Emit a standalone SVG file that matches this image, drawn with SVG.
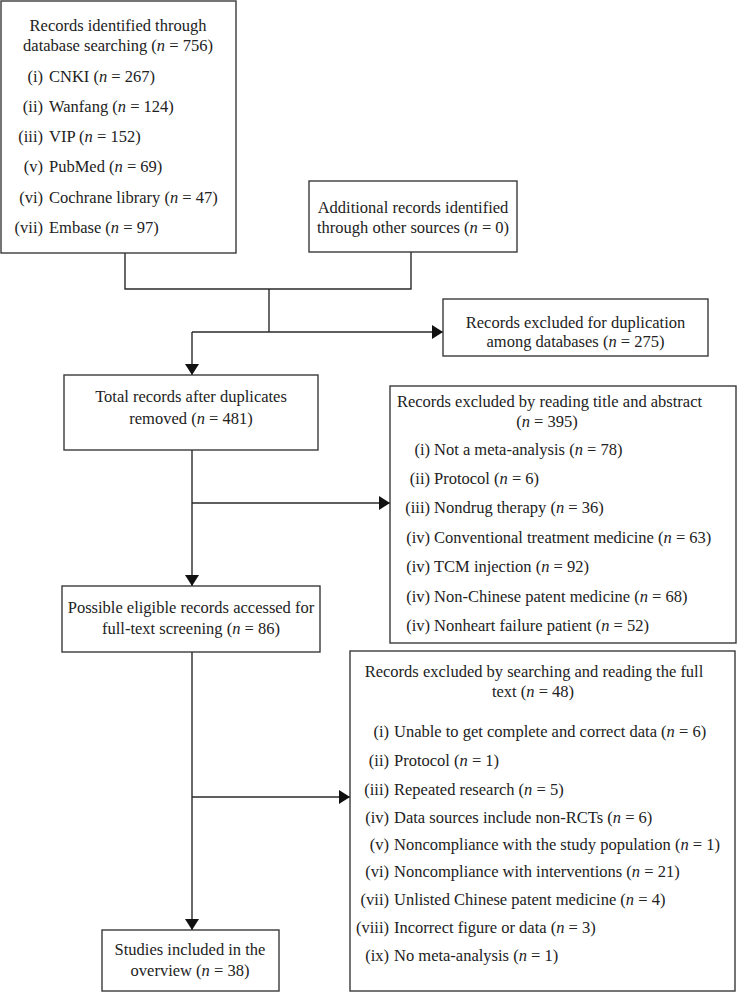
<svg xmlns="http://www.w3.org/2000/svg" width="737" height="993" viewBox="0 0 737 993">
<style>
text{font-family:"Liberation Serif","Times New Roman",serif;font-size:16.5px;fill:#222}
.c{text-anchor:middle}
.e{text-anchor:end}
.n{font-style:italic}
rect{fill:#fff;stroke:#3a3a3a;stroke-width:1.4}
.ln{fill:none;stroke:#2a2a2a;stroke-width:1.4}
</style>
<defs>
<marker id="ar" markerUnits="userSpaceOnUse" markerWidth="12" markerHeight="14" refX="11" refY="7" orient="auto">
<path d="M0,0 L11,7 L0,14 z" fill="#111"/>
</marker>
</defs>
<rect x="0" y="0" width="737" height="993" style="stroke:none;fill:#fff"/>
<g id="connectors">
<polyline class="ln" points="125,253 125,289 411,289 411,252"/>
<line class="ln" x1="269" y1="289" x2="269" y2="332"/>
<line class="ln" x1="192" y1="332" x2="443" y2="332" marker-end="url(#ar)"/>
<line class="ln" x1="192" y1="332" x2="192" y2="375" marker-end="url(#ar)"/>
<line class="ln" x1="192" y1="450" x2="192" y2="586" marker-end="url(#ar)"/>
<line class="ln" x1="192" y1="503" x2="390" y2="503" marker-end="url(#ar)"/>
<line class="ln" x1="192" y1="652" x2="192" y2="930" marker-end="url(#ar)"/>
<line class="ln" x1="192" y1="797" x2="350" y2="797" marker-end="url(#ar)"/>
</g>
<g id="db">
<rect x="1" y="1" width="235" height="252"/>
<text class="c" x="118" y="31">Records identified through</text>
<text class="c" x="118" y="51">database searching (<tspan class="n">n</tspan> = 756)</text>
<text class="e" x="43" y="82">(i)</text><text x="49" y="82">CNKI (<tspan class="n">n</tspan> = 267)</text>
<text class="e" x="43" y="112">(ii)</text><text x="49" y="112">Wanfang (<tspan class="n">n</tspan> = 124)</text>
<text class="e" x="43" y="142">(iii)</text><text x="49" y="142">VIP (<tspan class="n">n</tspan> = 152)</text>
<text class="e" x="43" y="172">(v)</text><text x="49" y="172">PubMed (<tspan class="n">n</tspan> = 69)</text>
<text class="e" x="43" y="203">(vi)</text><text x="49" y="203">Cochrane library (<tspan class="n">n</tspan> = 47)</text>
<text class="e" x="43" y="233">(vii)</text><text x="49" y="233">Embase (<tspan class="n">n</tspan> = 97)</text>
</g>
<g id="other">
<rect x="309" y="181" width="208" height="71"/>
<text class="c" x="413" y="213">Additional records identified</text>
<text class="c" x="413" y="233">through other sources (<tspan class="n">n</tspan> = 0)</text>
</g>
<g id="dup">
<rect x="443" y="299" width="265" height="57"/>
<text class="c" x="575.5" y="328">Records excluded for duplication</text>
<text class="c" x="575.5" y="347">among databases (<tspan class="n">n</tspan> = 275)</text>
</g>
<g id="total">
<rect x="64" y="375" width="254" height="75"/>
<text class="c" x="191" y="402">Total records after duplicates</text>
<text class="c" x="191" y="424">removed (<tspan class="n">n</tspan> = 481)</text>
</g>
<g id="title-abstract">
<rect x="390" y="386" width="346" height="257"/>
<text class="c" x="549.5" y="407">Records excluded by reading title and abstract</text>
<text class="c" x="547" y="427">(<tspan class="n">n</tspan> = 395)</text>
<text class="e" x="430" y="455">(i)</text><text x="434" y="455">Not a meta-analysis (<tspan class="n">n</tspan> = 78)</text>
<text class="e" x="430" y="484">(ii)</text><text x="434" y="484">Protocol (<tspan class="n">n</tspan> = 6)</text>
<text class="e" x="430" y="513">(iii)</text><text x="434" y="513">Nondrug therapy (<tspan class="n">n</tspan> = 36)</text>
<text class="e" x="430" y="543">(iv)</text><text x="434" y="543">Conventional treatment medicine (<tspan class="n">n</tspan> = 63)</text>
<text class="e" x="430" y="572">(iv)</text><text x="434" y="572">TCM injection (<tspan class="n">n</tspan> = 92)</text>
<text class="e" x="430" y="602">(iv)</text><text x="434" y="602">Non-Chinese patent medicine (<tspan class="n">n</tspan> = 68)</text>
<text class="e" x="430" y="631">(iv)</text><text x="434" y="631">Nonheart failure patient (<tspan class="n">n</tspan> = 52)</text>
</g>
<g id="eligible">
<rect x="62" y="586" width="258" height="66"/>
<text class="c" x="191" y="613">Possible eligible records accessed for</text>
<text class="c" x="191" y="634">full-text screening (<tspan class="n">n</tspan> = 86)</text>
</g>
<g id="fulltext">
<rect x="350" y="651" width="385" height="340"/>
<text class="c" x="534" y="677">Records excluded by searching and reading the full</text>
<text class="c" x="533" y="697">text (<tspan class="n">n</tspan> = 48)</text>
<text class="e" x="389" y="737">(i)</text><text x="394" y="737">Unable to get complete and correct data (<tspan class="n">n</tspan> = 6)</text>
<text class="e" x="389" y="766">(ii)</text><text x="394" y="766">Protocol (<tspan class="n">n</tspan> = 1)</text>
<text class="e" x="389" y="795">(iii)</text><text x="394" y="795">Repeated research (<tspan class="n">n</tspan> = 5)</text>
<text class="e" x="389" y="823">(iv)</text><text x="394" y="823">Data sources include non-RCTs (<tspan class="n">n</tspan> = 6)</text>
<text class="e" x="389" y="850">(v)</text><text x="394" y="850">Noncompliance with the study population (<tspan class="n">n</tspan> = 1)</text>
<text class="e" x="389" y="877">(vi)</text><text x="394" y="877">Noncompliance with interventions (<tspan class="n">n</tspan> = 21)</text>
<text class="e" x="389" y="905">(vii)</text><text x="394" y="905">Unlisted Chinese patent medicine (<tspan class="n">n</tspan> = 4)</text>
<text class="e" x="389" y="933">(viii)</text><text x="394" y="933">Incorrect figure or data (<tspan class="n">n</tspan> = 3)</text>
<text class="e" x="389" y="961">(ix)</text><text x="394" y="961">No meta-analysis (<tspan class="n">n</tspan> = 1)</text>
</g>
<g id="included">
<rect x="102" y="930" width="177" height="61"/>
<text class="c" x="190" y="955">Studies included in the</text>
<text class="c" x="190" y="976">overview (<tspan class="n">n</tspan> = 38)</text>
</g>
</svg>
